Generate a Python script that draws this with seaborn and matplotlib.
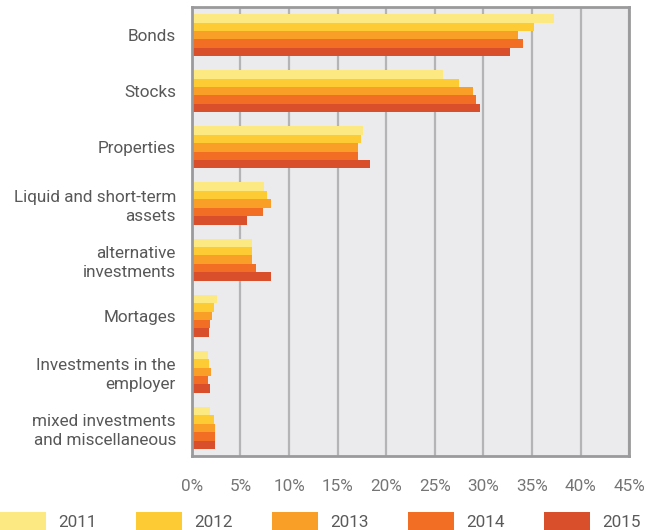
import pandas as pd
import seaborn as sns
import matplotlib.pyplot as plt
from matplotlib.ticker import MultipleLocator, FuncFormatter

# ---------------------------------
# Data (share of assets, %)
# ---------------------------------
categories = [
    "Bonds",
    "Stocks",
    "Properties",
    "Liquid and short-term\nassets",
    "alternative\ninvestments",
    "Mortages",
    "Investments in the\nemployer",
    "mixed investments\nand miscellaneous",
]
years = ["2011", "2012", "2013", "2014", "2015"]

share_2011 = [37.3, 25.8, 17.6, 7.4, 6.2, 2.6, 1.7, 1.85]
share_2012 = [35.2, 27.5, 17.4, 7.7, 6.2, 2.3, 1.75, 2.3]
share_2013 = [33.6, 28.9, 17.1, 8.1, 6.2, 2.05, 1.95, 2.35]
share_2014 = [34.1, 29.2, 17.1, 7.3, 6.6, 1.85, 1.65, 2.35]
share_2015 = [32.7, 29.6, 18.3, 5.65, 8.1, 1.75, 1.9, 2.35]

colors = ["#FDE982", "#FDCB33", "#F99E26", "#F26E24", "#DA4F2B"]

# long format for seaborn
rows = []
for year, vals in zip(years, [share_2011, share_2012, share_2013, share_2014, share_2015]):
    for cat, v in zip(categories, vals):
        rows.append({"Category": cat, "Year": year, "Share": v})
data = pd.DataFrame(rows)

# ---------------------------------
# Plot
# ---------------------------------
sns.set_style("white")
plt.rcParams["font.family"] = ["Roboto", "DejaVu Sans"]
FS = 12.3
px = FS * 100 / 72  # font size in pixels

fig = plt.figure(figsize=(6.46, 5.30), dpi=100)
ax = fig.add_axes([0.297, 0.1396, 0.677, 0.847])

sns.barplot(data=data, y="Category", x="Share", hue="Year", order=categories,
            hue_order=years, palette=colors, orient="h", width=0.75,
            saturation=1, errorbar=None, linewidth=0, ax=ax, legend=True)

ax.set_facecolor("#EBEBEE")
ax.set_xlim(0, 45)
ax.set_ylim(7.5, -0.5)
ax.xaxis.set_major_locator(MultipleLocator(5))
ax.xaxis.set_major_formatter(FuncFormatter(lambda v, p: f"{v:.0f}%"))
ax.grid(axis="x", color="#B4B4B7", linewidth=1.6)
ax.set_axisbelow(True)
for s in ax.spines.values():
    s.set_color("#9A9A9C")
    s.set_linewidth(2)
ax.set_xlabel("")
ax.set_ylabel("")

ax.tick_params(axis="x", length=5, width=1.2, color="#9A9A9C", pad=11.5,
               labelsize=FS, labelcolor="#757575")
ax.tick_params(axis="y", length=0, pad=11.5, labelsize=FS, labelcolor="#585858")
for lab in ax.get_yticklabels():
    lab.set_horizontalalignment("right")
    lab.set_multialignment("right")
    lab.set_linespacing(1.3)

handles, labels = ax.get_legend_handles_labels()
ax.get_legend().remove()
leg = fig.legend(handles, labels, loc="center left", bbox_to_anchor=(0.0, 0.016),
                 ncol=5, frameon=False, fontsize=FS, handlelength=46 / px,
                 handleheight=23 / px, handletextpad=12 / px,
                 columnspacing=39.5 / px, borderpad=0, borderaxespad=0)
for t in leg.get_texts():
    t.set_color("#5a5a5a")

fig.savefig("out.png", dpi=100)
